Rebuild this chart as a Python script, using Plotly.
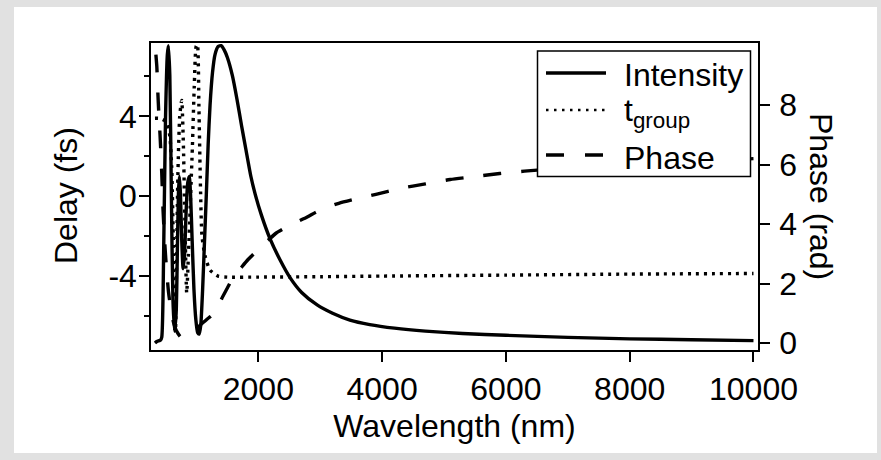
import plotly.graph_objects as go

# ---- data ----
int_wl = [330, 360, 400, 420, 440, 470, 500, 530, 548, 570, 595, 620, 645, 672, 695, 712, 726, 742, 762,
          785, 808, 835, 860, 885, 905, 930, 960, 990, 1020, 1045, 1070, 1100, 1130, 1160, 1190, 1220, 1260,
          1300, 1350, 1400, 1450, 1500, 1580, 1655, 1730, 1800, 1880, 1950, 2050, 2190, 2350, 2512, 2700,
          2950, 3200, 3480, 3800, 4200, 4700, 5300, 6000, 7000, 8000, 9000, 10000]
int_val = [0.0, 0.005, 0.008, 0.01, 0.02, 0.3, 0.75, 0.97, 1.0, 0.9, 0.5, 0.15, 0.04, 0.1, 0.35, 0.52, 0.56,
           0.5, 0.35, 0.25, 0.3, 0.45, 0.54, 0.56, 0.5, 0.35, 0.18, 0.08, 0.035, 0.03, 0.06, 0.18, 0.34, 0.5,
           0.67, 0.8, 0.91, 0.97, 0.997, 1.0, 0.985, 0.96, 0.9, 0.82, 0.73, 0.65, 0.56, 0.5, 0.43, 0.35, 0.28,
           0.22, 0.17, 0.128, 0.1, 0.077, 0.062, 0.05, 0.04, 0.032, 0.026, 0.019, 0.014, 0.011, 0.008]

tg_wl = [330, 380, 430, 480, 530, 570, 600, 625, 648, 662, 680, 700, 730, 762, 790, 815, 843, 870, 900,
         935, 965, 995, 1015, 1040, 1065, 1090, 1140, 1220, 1350, 1500, 2000, 3000, 4000, 6000, 8000, 10000]
tg_val = [3.9, 3.9, 3.88, 3.8, 3.6, 3.0, 1.5, -2.0, -6.0, -6.7, -3.0, 1.0, 4.0, 4.8, 2.5, -1.5, -4.85, -3.0,
          -0.5, 2.5, 5.5, 7.5, 7.6, 4.5, 0.5, -2.0, -3.0, -3.7, -4.0, -4.05, -4.05, -4.03, -4.0, -3.95, -3.9,
          -3.87]

ph_wl = [345, 360, 375, 395, 412, 440, 460, 490, 520, 550, 590, 630, 680, 750, 843, 950, 1060, 1170, 1270,
         1340, 1410, 1500, 1590, 1710, 1830, 2000, 2160, 2290, 2430, 2600, 2790, 2930, 3080, 3300, 3580, 3900,
         4290, 4700, 5100, 5500, 5900, 6300, 6710, 7100, 7520, 8000, 8330, 9140, 10000]
ph_val = [9.7, 9.3, 8.5, 7.6, 7.0, 5.7, 4.5, 3.3, 2.4, 1.7, 1.1, 0.7, 0.4, 0.2, 0.25, 0.4, 0.6, 0.8, 0.97,
          1.2, 1.5, 1.85, 2.2, 2.5, 2.8, 3.15, 3.46, 3.7, 3.87, 4.05, 4.24, 4.4, 4.54, 4.7, 4.85, 5.0, 5.2,
          5.35, 5.5, 5.6, 5.7, 5.78, 5.85, 5.9, 5.95, 6.0, 6.05, 6.12, 6.2]

x_ticks = [2000, 4000, 6000, 8000, 10000]
x_tick_text = ["2000", "4000", "6000", "8000", "10000"]
delay_ticks = [-4, 0, 4]
delay_tick_text = ["-4", "0", "4"]
delay_minor = [-6, -2, 2, 6]
phase_ticks = [0, 2, 4, 6, 8]

legend_names = ["Intensity", "t<sub>group</sub>", "Phase"]

FONT = "Liberation Sans, Arial, sans-serif"
FS = 32
W, H = 881, 460
ML, MR, MT, MB = 151, 123, 43, 110
PW, PH = W - ML - MR, H - MT - MB


def px(x):  # pixel -> paper x
    return (x - ML) / PW


def py(y):  # pixel -> paper y
    return (H - MB - y) / PH


fig = go.Figure()
fig.add_trace(go.Scatter(x=int_wl, y=int_val, name=legend_names[0], yaxis="y3", mode="lines",
                         showlegend=False,
                         line=dict(color="black", width=3.4, shape="spline", smoothing=0.6)))
fig.add_trace(go.Scatter(x=tg_wl, y=tg_val, name="t_group", yaxis="y", mode="lines", showlegend=False,
                         line=dict(color="black", width=3.4, dash="3px,5px", shape="spline", smoothing=0.6)))
fig.add_trace(go.Scatter(x=ph_wl, y=ph_val, name=legend_names[2], yaxis="y2", mode="lines",
                         showlegend=False,
                         line=dict(color="black", width=3.4, dash="18px,20px", shape="spline", smoothing=0.6)))

axis_common = dict(showgrid=False, zeroline=False, showline=True, linecolor="black", linewidth=1.5,
                   ticks="outside", ticklen=10, tickwidth=1.5, tickcolor="black",
                   tickfont=dict(family=FONT, size=FS, color="black"))

# manual legend (box, samples, labels)
shapes = [
    dict(type="rect", xref="paper", yref="paper", x0=px(14), x1=px(877), y0=py(453), y1=py(7),
         fillcolor="white", line=dict(width=0), layer="below"),
    dict(type="rect", xref="paper", yref="paper", x0=px(537.5), x1=px(750.5), y0=py(176.5), y1=py(51),
         fillcolor="white", line=dict(color="black", width=1.5), layer="above"),
    dict(type="line", xref="paper", yref="paper", x0=px(546), x1=px(606), y0=py(73), y1=py(73),
         line=dict(color="black", width=3.4)),
    dict(type="line", xref="paper", yref="paper", x0=px(546), x1=px(606), y0=py(110), y1=py(110),
         line=dict(color="black", width=2.5, dash="2.5px,5.5px")),
    dict(type="line", xref="paper", yref="paper", x0=px(546), x1=px(606), y0=py(155), y1=py(155),
         line=dict(color="black", width=3.4, dash="18px,21px")),
]
lab_font = dict(family=FONT, size=FS, color="black")
annotations = [
    dict(text=legend_names[0], xref="paper", yref="paper", x=px(622), y=py(75), xanchor="left",
         yanchor="middle", showarrow=False, font=lab_font),
    dict(text=legend_names[1], xref="paper", yref="paper", x=px(622), y=py(112), xanchor="left",
         yanchor="middle", showarrow=False, font=lab_font),
    dict(text=legend_names[2], xref="paper", yref="paper", x=px(622), y=py(158), xanchor="left",
         yanchor="middle", showarrow=False, font=lab_font),
    dict(text="Phase (rad)", xref="paper", yref="paper", x=px(821), y=py(196), xanchor="center",
         yanchor="middle", textangle=90, showarrow=False, font=lab_font),
    dict(text="Delay (fs)", xref="paper", yref="paper", x=px(66), y=py(196), xanchor="center",
         yanchor="middle", textangle=-90, showarrow=False, font=lab_font),
]

fig.update_layout(
    width=W, height=H,
    margin=dict(l=ML, r=MR, t=MT, b=MB),
    paper_bgcolor="#e1e1e1", plot_bgcolor="white",
    font=dict(family=FONT, size=FS, color="black"),
    showlegend=False,
    xaxis=dict(range=[266, 10073], tickvals=x_ticks, ticktext=x_tick_text, mirror=True,
               title=dict(text="Wavelength (nm)", font=dict(family=FONT, size=FS), standoff=8),
               **axis_common),
    yaxis=dict(range=[-7.7, 7.67], tickvals=delay_ticks, ticktext=delay_tick_text, mirror=False,
               ticklabelstandoff=-4,
               minor=dict(tickvals=delay_minor, ticks="outside", ticklen=5, tickwidth=1.5, tickcolor="black"),
               **axis_common),
    yaxis2=dict(range=[-0.235, 10.09], tickvals=phase_ticks, overlaying="y", side="right",
                ticklabelstandoff=3, **axis_common),
    yaxis3=dict(range=[-0.0235, 1.009], overlaying="y", side="right", visible=False),
    annotations=annotations,
    shapes=shapes,
)

fig.write_html("out.html", config=dict(displayModeBar=False),
               post_script="document.body.style.margin='0';document.body.style.background='#e1e1e1';")
